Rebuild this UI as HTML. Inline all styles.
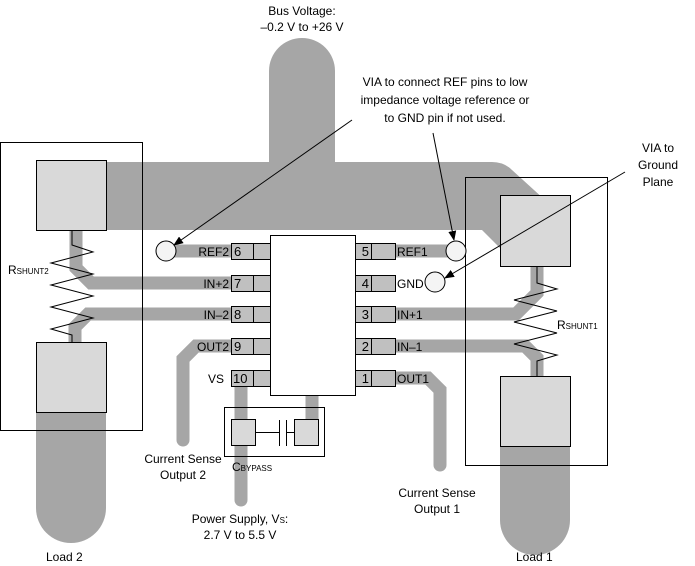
<!DOCTYPE html>
<html><head><meta charset="utf-8"><style>
html,body{margin:0;padding:0;background:#fff;}
svg{display:block;font-family:"Liberation Sans",Arial,sans-serif;font-size:12px;}
</style></head><body>
<svg width="695" height="566" viewBox="0 0 695 566" xmlns="http://www.w3.org/2000/svg">
<defs><marker id="ah" markerWidth="10" markerHeight="8" refX="9" refY="4" orient="auto" markerUnits="userSpaceOnUse"><path d="M0,0 L10,4 L0,8 z" fill="#000"/></marker></defs>
<g fill="#a6a6a6">
<path d="M269,71 A33,33 0 0 1 335,71 L335,162 L492,162 Q504,162 512,170 L545,200 L545,215 L502,250 L482,230 L60,230 L60,162 L269,162 z"/>
<path d="M36,400 L106,400 L106,508 A35,35 0 0 1 36,508 z"/>
<path d="M500,430 L570,430 L570,520 A35,35 0 0 1 500,520 z"/>
</g>
<g fill="none" stroke="#a6a6a6" stroke-width="13" stroke-linejoin="miter">
<path d="M166,251 L231,251"/>
<path d="M395,251 L456,251"/>
<path d="M76,230 L76,268 L91,283 L231,283"/>
<path d="M231,314 L88,314 L75,327 L75,342"/>
<path d="M395,314 L516,314 L537,293 L537,266"/>
<path d="M395,346 L525,346 L537,358 L537,376"/>
<path d="M231,346 L196,346 L183,359 L183,440" stroke-linecap="round"/>
<path d="M241,385 L241,500" stroke-linecap="round"/>
<path d="M355,282 L330,282 L312,300 L312,420"/>
<path d="M395,378 L428,378 L440,390 L440,465" stroke-linecap="round"/>
</g>
<g fill="none" stroke="#000" stroke-width="1">
<rect x="0.5" y="142.5" width="142" height="288"/>
<rect x="465.5" y="177.5" width="142" height="288"/>
<polyline points="72,230 72,245 93,252 51,263 93,274 51,285 93,296 51,307 93,318 51,329 72,335 72,342"/>
<polyline points="537,266 537,283 557,289 514,300 557,311 514,322 557,333 514,344 557,355 537,361 537,376"/>
</g>
<g fill="#d9d9d9" stroke="#000">
<rect x="36.5" y="160.5" width="70" height="70"/>
<rect x="36.5" y="342.5" width="70" height="70"/>
<rect x="500.5" y="195.5" width="70" height="71"/>
<rect x="500.5" y="376.5" width="70" height="70"/>
</g>
<rect x="270.5" y="235.5" width="85" height="160" fill="#fff" stroke="#000"/>
<g fill="#c0c0c0" stroke="#000">
<rect x="231.5" y="243.5" width="39" height="16"/><line x1="253.5" y1="243.5" x2="253.5" y2="259.5"/>
<rect x="231.5" y="275.5" width="39" height="16"/><line x1="253.5" y1="275.5" x2="253.5" y2="291.5"/>
<rect x="231.5" y="306.5" width="39" height="16"/><line x1="253.5" y1="306.5" x2="253.5" y2="322.5"/>
<rect x="231.5" y="338.5" width="39" height="16"/><line x1="253.5" y1="338.5" x2="253.5" y2="354.5"/>
<rect x="231.5" y="370.5" width="39" height="16"/><line x1="253.5" y1="370.5" x2="253.5" y2="386.5"/>
<rect x="355.5" y="243.5" width="40" height="16"/><line x1="371.5" y1="243.5" x2="371.5" y2="259.5"/>
<rect x="355.5" y="275.5" width="40" height="16"/><line x1="371.5" y1="275.5" x2="371.5" y2="291.5"/>
<rect x="355.5" y="306.5" width="40" height="16"/><line x1="371.5" y1="306.5" x2="371.5" y2="322.5"/>
<rect x="355.5" y="338.5" width="40" height="16"/><line x1="371.5" y1="338.5" x2="371.5" y2="354.5"/>
<rect x="355.5" y="370.5" width="40" height="16"/><line x1="371.5" y1="370.5" x2="371.5" y2="386.5"/>
</g>
<g fill="#f4f4f4" stroke="#000">
<circle cx="166" cy="251" r="10"/>
<circle cx="456" cy="251" r="10"/>
<circle cx="435" cy="282" r="10"/>
</g>
<rect x="224.5" y="407.5" width="100" height="49" fill="none" stroke="#000"/>
<rect x="231.5" y="419.5" width="24" height="26" fill="#d9d9d9" stroke="#000"/>
<rect x="294.5" y="419.5" width="24" height="26" fill="#d9d9d9" stroke="#000"/>
<g stroke="#000"><line x1="255" y1="432.5" x2="279" y2="432.5"/><line x1="279.5" y1="420" x2="279.5" y2="446"/><line x1="286.5" y1="420" x2="286.5" y2="446"/><line x1="287" y1="432.5" x2="294" y2="432.5"/></g>
<g stroke="#000" fill="none">
<line x1="352" y1="120" x2="174" y2="245" marker-end="url(#ah)"/>
<line x1="433" y1="133" x2="454" y2="240" marker-end="url(#ah)"/>
<line x1="625" y1="172" x2="445" y2="278" marker-end="url(#ah)"/>
</g>
<g fill="#000">
<text x="302" y="15" text-anchor="middle">Bus Voltage:</text>
<text x="302" y="31" text-anchor="middle">–0.2 V to +26 V</text>
<text x="445" y="86" text-anchor="middle">VIA to connect REF pins to low</text>
<text x="445" y="104" text-anchor="middle">impedance voltage reference or</text>
<text x="445" y="122" text-anchor="middle">to GND pin if not used.</text>
<text x="658" y="152" text-anchor="middle">VIA to</text>
<text x="658" y="169" text-anchor="middle">Ground</text>
<text x="658" y="186" text-anchor="middle">Plane</text>
<text x="229" y="256" text-anchor="end">REF2</text>
<text x="229" y="288" text-anchor="end">IN+2</text>
<text x="229" y="319" text-anchor="end">IN–2</text>
<text x="229" y="351" text-anchor="end">OUT2</text>
<text x="224" y="383" text-anchor="end">VS</text>
<g font-size="13">
<text x="234" y="256">6</text><text x="234" y="288">7</text><text x="234" y="319">8</text><text x="234" y="351">9</text><text x="233" y="383">10</text>
<text x="369" y="256" text-anchor="end">5</text><text x="369" y="288" text-anchor="end">4</text><text x="369" y="319" text-anchor="end">3</text><text x="369" y="351" text-anchor="end">2</text><text x="369" y="383" text-anchor="end">1</text>
</g>
<text x="397" y="256">REF1</text>
<text x="397" y="288">GND</text>
<text x="397" y="319">IN+1</text>
<text x="397" y="351">IN–1</text>
<text x="397" y="383">OUT1</text>
<text x="8" y="274">R<tspan font-size="8">SHUNT2</tspan></text>
<text x="557" y="329">R<tspan font-size="8">SHUNT1</tspan></text>
<text x="232" y="471">C<tspan font-size="8">BYPASS</tspan></text>
<text x="183" y="463" text-anchor="middle">Current Sense</text>
<text x="183" y="479" text-anchor="middle">Output 2</text>
<text x="437" y="497" text-anchor="middle">Current Sense</text>
<text x="437" y="513" text-anchor="middle">Output 1</text>
<text x="240" y="523" text-anchor="middle">Power Supply, V<tspan font-size="8">S</tspan>:</text>
<text x="240" y="539" text-anchor="middle">2.7 V to 5.5 V</text>
<text x="46" y="561">Load 2</text>
<text x="516" y="561">Load 1</text>
</g>
</svg>
</body></html>
